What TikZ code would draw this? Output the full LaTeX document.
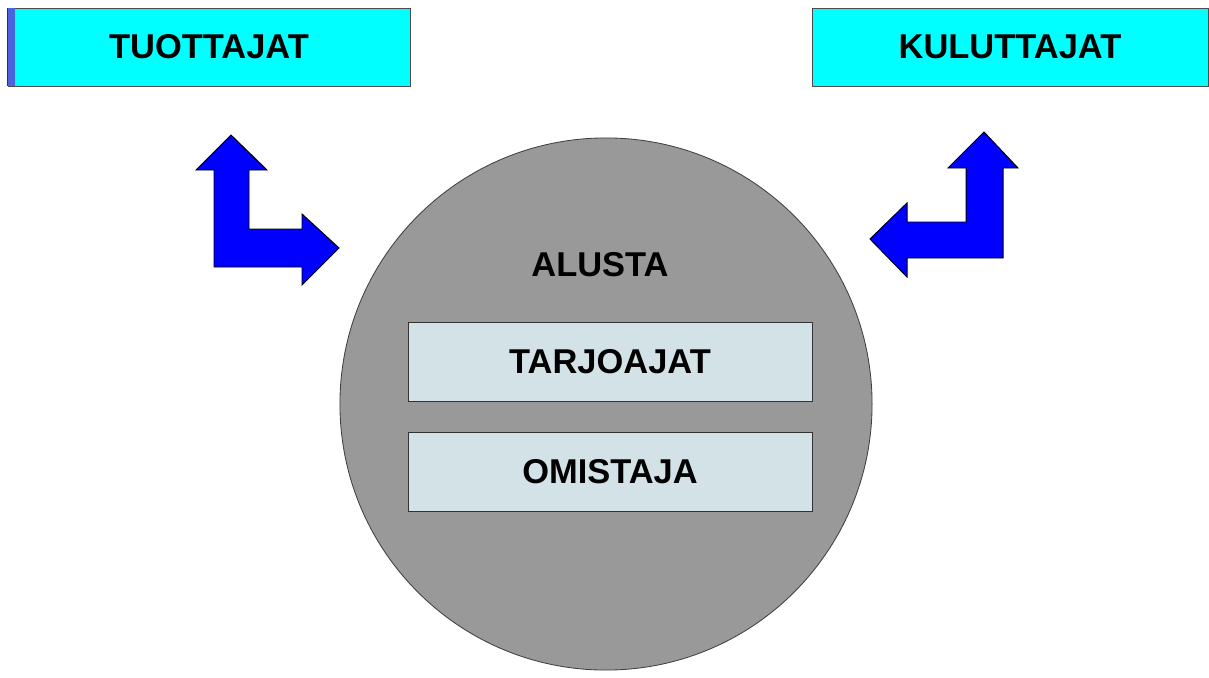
\documentclass[tikz,border=0pt]{standalone}
\usepackage{fontspec}
\setmainfont{Liberation Sans}
\definecolor{boxgray}{HTML}{D2E2E6}
\definecolor{stripe}{HTML}{4A64E0}
\definecolor{aqua}{RGB}{0,255,255}
\begin{document}
\begin{tikzpicture}[
  x=0.025cm, y=-0.025cm,
  lbl/.style={font=\fontsize{24.5}{29}\selectfont\bfseries},
  topbox/.style={lbl, draw=gray!60!black, fill=aqua, line width=0.6pt, minimum height=1.95cm, inner sep=0pt},
  innerbox/.style={lbl, draw=black!80, fill=boxgray, line width=0.6pt, minimum width=10.1cm, minimum height=1.975cm, inner sep=0pt},
  platform/.style={circle, draw=black!75, fill=black!40, line width=0.6pt, minimum size=13.3cm, inner sep=0pt},
  bentarrow/.style={draw=black, fill=blue, line width=0.7pt, line join=miter}
]
  \useasboundingbox (0,0) rectangle (1209,677);

  % nodes
  \node[platform] (alusta) at (606,404) {};
  \node[lbl] (alustalbl) at (600,265) {ALUSTA};
  \node[innerbox] (tarjo) at (610,362) {TARJOAJAT};
  \node[innerbox] (omis) at (610,472) {OMISTAJA};
  \node[topbox, minimum width=10.05cm] (tuo) at (209,47) {TUOTTAJAT};
  \node[topbox, minimum width=9.9cm] (kulu) at (1010,47) {KULUTTAJAT};
  \fill[stripe] (tuo.north west) rectangle ([xshift=0.18cm]tuo.south west);
  \draw[black!80, line width=0.6pt] (tuo.north west) -- (tuo.south west);

  % arrows
  \draw[bentarrow] (231,135) -- (267,170) -- (249,170) -- (249,229) -- (302,229)
    -- (302,214) -- (339,248) -- (302,285) -- (302,267) -- (214,267)
    -- (214,170) -- (196,170) -- cycle;
  \draw[bentarrow] (984,132) -- (1018,168) -- (1003,168) -- (1003,258) -- (907,258)
    -- (907,277) -- (870,239) -- (907,203) -- (907,222) -- (966,222)
    -- (966,168) -- (948,168) -- cycle;
\end{tikzpicture}
\end{document}
